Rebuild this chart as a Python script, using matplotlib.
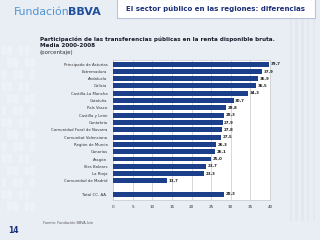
import matplotlib.pyplot as plt
import matplotlib.patches as patches

# Datos: transferencias públicas / renta disponible bruta (%), media 2000-2008
regiones = ["Principado de Asturias", "Extremadura", "Andalucía", "Galicia",
            "Castilla-La Mancha", "Cataluña", "País Vasco", "Castilla y León",
            "Cantabria", "Comunidad Foral de Navarra", "Comunitat Valenciana",
            "Región de Murcia", "Canarias", "Aragón", "Illes Balears",
            "La Rioja", "Comunidad de Madrid", "Total CC. AA."]
valores = [39.7, 37.9, 36.9, 36.5, 34.3, 30.7, 28.8, 28.3, 27.9, 27.8, 27.5,
           26.3, 26.1, 25.0, 23.7, 23.3, 13.7, 28.3]
ticks_x = [0, 5, 10, 15, 20, 25, 30, 35, 40]

navy = "#1b3f8b"
bg = "#e9edf4"

fig = plt.figure(figsize=(3.2, 2.4), dpi=100)
fig.patch.set_facecolor(bg)

# light squares on the left of the slide
for i in range(6):
    for j in range(14):
        if (i + j) % 3 != 0:
            fig.patches.append(patches.Rectangle(
                (0.005 + i * 0.018, 0.12 + j * 0.05), 0.014, 0.04,
                transform=fig.transFigure, facecolor="#eef1f7",
                edgecolor="none", zorder=0))
# stripes on the right
for k in range(5):
    fig.patches.append(patches.Rectangle(
        (0.905 + k * 0.018, 0.08), 0.008, 0.85, transform=fig.transFigure,
        facecolor="#e2e7f0", edgecolor="none", zorder=0))

# header
fig.text(0.044, 0.948, "Fundación", fontsize=7.8, color="#4f94d4",
         ha="left", va="center")
fig.text(0.212, 0.948, "BBVA", fontsize=8, color="#1f4e9c",
         fontweight="bold", ha="left", va="center")
fig.patches.append(patches.Rectangle(
    (0.365, 0.925), 0.62, 0.08, transform=fig.transFigure,
    facecolor="white", edgecolor="#b8c4d8", linewidth=0.8, zorder=1))
fig.text(0.675, 0.962, "El sector público en las regiones: diferencias",
         fontsize=5.0, color="#1b2f7a", fontweight="bold",
         ha="center", va="center")

fig.text(0.125, 0.838, "Participación de las transferencias públicas en la "
         "renta disponible bruta.", fontsize=4.05, fontweight="bold",
         color="#1a1a2a", ha="left", va="center")
fig.text(0.125, 0.812, "Media 2000-2008", fontsize=4.05, fontweight="bold",
         color="#1a1a2a", ha="left", va="center")
fig.text(0.125, 0.782, "(porcentaje)", fontsize=4, color="#333333",
         ha="left", va="center")

ax = fig.add_axes([0.353, 0.167, 0.491, 0.583])
ax.set_facecolor("white")

ypos = list(range(len(regiones) - 1)) + [17.8]
ax.barh(ypos, valores, height=0.68, color=navy, zorder=3)
for y, v in zip(ypos, valores):
    ax.text(v + 0.4, y, f"{v:.1f}".replace(".", ","), fontsize=2.9,
            fontweight="bold", color="#222222", va="center", ha="left")

ax.set_xlim(0, 40)
ax.set_ylim(18.6, -0.55)
ax.set_xticks(ticks_x)
ax.set_xticklabels([str(t) for t in ticks_x], fontsize=3, color="#333333")
ax.set_yticks(ypos)
ax.set_yticklabels(regiones, fontsize=2.8, color="#333333")
ax.tick_params(length=0, pad=4)
ax.xaxis.grid(True, color="#c8c8c8", linewidth=0.5, zorder=0)
for s in ax.spines.values():
    s.set_color("#c8c8c8")
    s.set_linewidth(0.5)

fig.text(0.135, 0.07, "Fuente: Fundación BBVA-Ivie", fontsize=2.5,
         color="#555555", ha="left", va="center")
fig.text(0.025, 0.04, "14", fontsize=5.5, fontweight="bold",
         color="#1b2f7a", ha="left", va="center")

fig.savefig("out.png", dpi=100, facecolor=fig.get_facecolor())
